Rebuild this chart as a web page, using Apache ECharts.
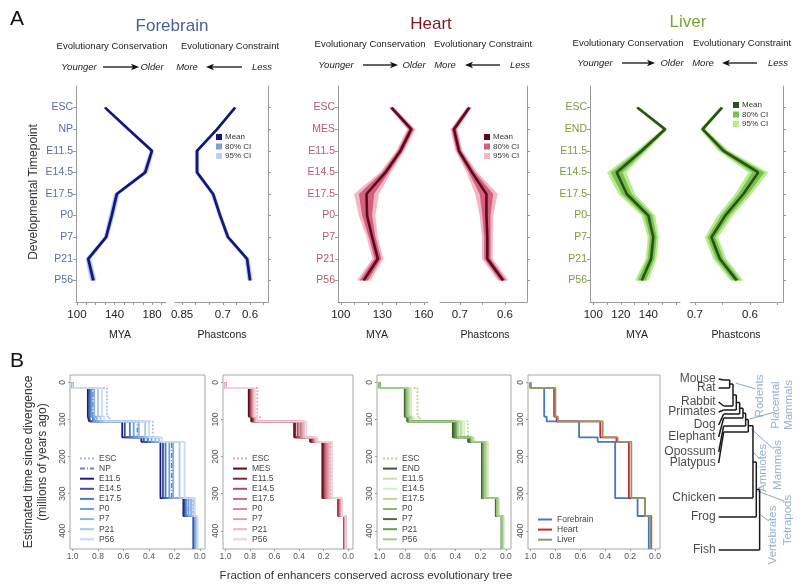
<!DOCTYPE html>
<html><head><meta charset="utf-8">
<script src="https://cdn.jsdelivr.net/npm/echarts@6/dist/echarts.min.js"></script>
<style>html,body{margin:0;padding:0;background:#fff}#c{width:800px;height:586px}</style>
</head><body><div id="c"></div>
<script>
// ---------------- DATA ----------------
const fbStages = ['ESC','NP','E11.5','E14.5','E17.5','P0','P7','P21','P56'];
const htStages = ['ESC','MES','E11.5','E14.5','E17.5','P0','P7','P21','P56'];
const lvStages = ['ESC','END','E11.5','E14.5','E17.5','P0','P7','P21','P56'];

const fbMya      = [129.9,154.7,179.7,172.6,142.4,137.0,131.0,112.0,117.4];
const fbMyaCi80  = [1.2,1.2,1.5,1.8,1.8,1.8,1.5,1.8,2.1];
const fbMyaCi95  = [2.0,2.0,2.5,3.0,3.0,3.0,2.5,3.0,3.5];
const fbPhast    = [0.655,0.721,0.795,0.795,0.736,0.710,0.681,0.611,0.600];
const fbPhCi80   = [0.004,0.004,0.005,0.005,0.005,0.005,0.005,0.005,0.006];
const fbPhCi95   = [0.006,0.006,0.008,0.008,0.008,0.008,0.008,0.009,0.010];

const htMya      = [136.6,150.9,143.1,132.3,118.6,119.0,122.7,126.8,116.6];
const htMyaCi80  = [1.2,1.8,1.8,2.4,5.5,3.6,2.4,2.4,3.0];
const htMyaCi95  = [2.0,3.0,3.0,4.0,9.0,6.0,4.0,4.0,5.0];
const htPhast    = [0.679,0.713,0.702,0.673,0.641,0.641,0.639,0.639,0.604];
const htPhCi80   = [0.004,0.005,0.005,0.007,0.015,0.009,0.007,0.007,0.007];
const htPhCi95   = [0.006,0.008,0.008,0.012,0.025,0.015,0.012,0.012,0.012];

const lvMya      = [132.0,152.1,135.2,117.0,124.3,140.0,143.6,142.0,135.2];
const lvMyaCi80  = [1.0,1.2,2.4,4.2,3.6,3.0,2.4,2.4,3.0];
const lvMyaCi95  = [1.5,2.0,4.0,7.0,6.0,5.0,4.0,4.0,5.0];
const lvPhast    = [0.651,0.686,0.648,0.585,0.612,0.645,0.670,0.655,0.624];
const lvPhCi80   = [0.0025,0.003,0.006,0.011,0.009,0.008,0.007,0.007,0.007];
const lvPhCi95   = [0.004,0.005,0.010,0.018,0.015,0.014,0.012,0.012,0.012];

// Panel B: divergence times (MYA) and fraction of enhancers conserved after each
const divTimes = [15, 92, 105, 148, 160, 312, 360];
const endTime = 449;
const fbFrac = {
  'ESC':  [0.73,0.71,0.37,0.33,0.21,0.06,0.03],
  'NP':   [0.84,0.82,0.49,0.41,0.22,0.09,0.04],
  'E11.5':[0.88,0.87,0.61,0.46,0.31,0.13,0.05],
  'E14.5':[0.87,0.86,0.59,0.44,0.29,0.12,0.05],
  'E17.5':[0.86,0.84,0.55,0.41,0.27,0.11,0.04],
  'P0':   [0.85,0.83,0.52,0.38,0.24,0.09,0.04],
  'P7':   [0.83,0.81,0.48,0.35,0.21,0.07,0.03],
  'P21':  [0.80,0.78,0.43,0.32,0.16,0.05,0.02],
  'P56':  [0.77,0.75,0.40,0.30,0.12,0.04,0.02]
};
const htFrac = {
  'ESC':  [0.74,0.72,0.36,0.28,0.14,0.05,0.02],
  'MES':  [0.81,0.79,0.44,0.31,0.21,0.08,0.03],
  'E11.5':[0.80,0.78,0.43,0.30,0.20,0.08,0.03],
  'E14.5':[0.79,0.77,0.41,0.29,0.19,0.07,0.03],
  'E17.5':[0.78,0.76,0.39,0.28,0.18,0.07,0.02],
  'P0':   [0.78,0.76,0.38,0.27,0.17,0.06,0.02],
  'P7':   [0.77,0.75,0.37,0.27,0.16,0.06,0.02],
  'P21':  [0.77,0.75,0.36,0.26,0.15,0.05,0.02],
  'P56':  [0.76,0.74,0.34,0.25,0.13,0.05,0.02]
};
const lvFrac = {
  'ESC':  [0.70,0.68,0.30,0.26,0.15,0.06,0.02],
  'END':  [0.80,0.78,0.42,0.30,0.19,0.08,0.035],
  'E11.5':[0.76,0.74,0.35,0.26,0.15,0.06,0.02],
  'E14.5':[0.75,0.73,0.33,0.25,0.14,0.06,0.02],
  'E17.5':[0.77,0.75,0.36,0.27,0.16,0.06,0.03],
  'P0':   [0.79,0.77,0.39,0.28,0.17,0.07,0.03],
  'P7':   [0.80,0.78,0.41,0.29,0.19,0.08,0.03],
  'P21':  [0.79,0.77,0.40,0.28,0.18,0.07,0.03],
  'P56':  [0.78,0.76,0.38,0.27,0.17,0.07,0.03]
};
const summaryNames = ['Forebrain','Heart','Liver'];
const summaryFrac = {
  'Forebrain':[0.89,0.87,0.61,0.46,0.32,0.14,0.05],
  'Heart':    [0.81,0.79,0.44,0.31,0.21,0.08,0.03],
  'Liver':    [0.80,0.78,0.42,0.30,0.19,0.08,0.035]
};

// Tree (cladogram)
const species = ['Mouse','Rat','Rabbit','Primates','Dog','Elephant','Opossum','Platypus','Chicken','Frog','Fish'];
const speciesLabelRow = [0.4,1.3,2.7,3.7,5.0,6.2,7.7,8.8,12.3,14.2,17.5];
const speciesTipRow   = [0.5,1.3,3.1,3.5,3.9,4.3,5.1,5.7,12.3,14.2,17.5];
const nodeDepth = [3,4,5,6,7,7.8,8.6,10,11,12];
const clades = ['Rodents','Placental\nMammals','Amniotes','Mammals','Tetrapods','Vertebrates'];

// ---------------- STYLE / LAYOUT ----------------
const FONT = 'Liberation Sans, Arial, Helvetica, sans-serif';
const AX = '#9a9a9a';
const tissueStyle = {
  fb: {title:'#4b6096', lab:'#5d6d9e', mean:'#16167a', c80:'#7f9de0', c95:'#bcd0f4'},
  ht: {title:'#7d1a26', lab:'#b25c6c', mean:'#5c0b1c', c80:'#d4607e', c95:'#f2b8c6'},
  lv: {title:'#7aa33a', lab:'#7d9c3c', mean:'#2b5218', c80:'#78c050', c95:'#b6ec8e'}
};
const gridsA = [
  {left:76, top:86, width:90, height:216},
  {left:175, top:86, width:93, height:216},
  {left:338, top:86, width:90, height:216},
  {left:440, top:86, width:87, height:216},
  {left:590, top:86, width:90, height:216},
  {left:690, top:86, width:93, height:216}
];
const gridsB = [
  {left:70, top:375, width:135, height:174},
  {left:223, top:375, width:130, height:174},
  {left:377, top:375, width:134, height:174},
  {left:528, top:375, width:132, height:174}
];
const gridTree = {left:713, top:375, width:86.6, height:180};

const xA = [
  {min:99, max:194.7, ticks:[100,110,120,130,140,150,160,170,180,190], labels:[100,140,180], inv:false},
  {min:0.534, max:0.876, ticks:[0.55,0.6,0.65,0.7,0.75,0.8,0.85], labels:[0.85,0.7,0.6], inv:true},
  {min:98, max:163, ticks:[100,110,120,130,140,150,160], labels:[100,130,160], inv:false},
  {min:0.551, max:0.744, ticks:[0.6,0.65,0.7], labels:[0.7,0.6], inv:true},
  {min:97.6, max:163, ticks:[100,110,120,130,140,150,160], labels:[100,120,140], inv:false},
  {min:0.54, max:0.709, ticks:[0.55,0.6,0.65,0.7], labels:[0.7,0.6], inv:true}
];
const stageIdx = [0,1,2,3,4,5,6,7,8];

const grid = [], xAxis = [], yAxis = [], series = [], legend = [];

// ---- Panel A axes
const stageSets = [fbStages, fbStages, htStages, htStages, lvStages, lvStages];
const labCols = [tissueStyle.fb.lab, tissueStyle.fb.lab, tissueStyle.ht.lab, tissueStyle.ht.lab, tissueStyle.lv.lab, tissueStyle.lv.lab];
gridsA.forEach((g, i) => {
  grid.push(g);
  const a = xA[i];
  xAxis.push({type:'value', gridIndex:i, min:a.min, max:a.max, inverse:a.inv, splitLine:{show:false},
    axisLine:{show:true, onZero:false, lineStyle:{color:AX}},
    axisTick:{show:true, customValues:a.ticks, length:3, lineStyle:{color:AX}},
    axisLabel:{customValues:a.labels, color:'#222', fontSize:11.5, fontFamily:FONT, margin:7,
      formatter: v => String(v)}});
  const isMya = i % 2 === 0;
  yAxis.push({type:'value', gridIndex:i, min:-1, max:9, inverse:true, position: isMya ? 'left' : 'right',
    splitLine:{show:false}, axisLine:{show:true, onZero:false, lineStyle:{color:AX}},
    axisTick:{show:true, customValues:stageIdx, length:3, lineStyle:{color:AX}},
    axisLabel:{show:isMya, customValues:stageIdx, color:labCols[i], fontSize:10.5, fontFamily:FONT, margin:3,
      formatter: v => stageSets[i][v]}});
});

function band(name, gi, mean, hw, color) {
  return {type:'custom', name, coordinateSystem:'cartesian2d', xAxisIndex:gi, yAxisIndex:gi,
    itemStyle:{color}, silent:true, z:1, clip:false,
    data: mean.map((m, k) => [m, k]),
    renderItem(params, api) {
      if (params.dataIndex !== 0) return null;
      const pts = [];
      for (let k = 0; k < mean.length; k++) pts.push(api.coord([mean[k] - hw[k], k]));
      for (let k = mean.length - 1; k >= 0; k--) pts.push(api.coord([mean[k] + hw[k], k]));
      return {type:'polygon', shape:{points:pts}, style:{fill:color}};
    }};
}
function meanLine(name, gi, mean, color) {
  return {type:'line', name, xAxisIndex:gi, yAxisIndex:gi, data: mean.map((m, k) => [m, k]),
    symbol:'none', lineStyle:{color, width:2.6}, itemStyle:{color}, z:3, silent:true};
}
const aSets = [
  ['fb', fbMya, fbMyaCi80, fbMyaCi95, fbPhast, fbPhCi80, fbPhCi95, 0],
  ['ht', htMya, htMyaCi80, htMyaCi95, htPhast, htPhCi80, htPhCi95, 2],
  ['lv', lvMya, lvMyaCi80, lvMyaCi95, lvPhast, lvPhCi80, lvPhCi95, 4]
];
aSets.forEach(([k, mya, m80, m95, ph, p80, p95, gi]) => {
  const st = tissueStyle[k];
  series.push(band(k + '|95% CI', gi, mya, m95, st.c95));
  series.push(band(k + '|80% CI', gi, mya, m80, st.c80));
  series.push(meanLine(k + '|Mean', gi, mya, st.mean));
  series.push(band(k + '|95% CI', gi + 1, ph, p95, st.c95));
  series.push(band(k + '|80% CI', gi + 1, ph, p80, st.c80));
  series.push(meanLine(k + '|Mean', gi + 1, ph, st.mean));
});
const legPosA = {fb:{left:216, top:133}, ht:{left:484, top:133}, lv:{left:733, top:101}};
['fb','ht','lv'].forEach(k => {
  legend.push({orient:'vertical', left:legPosA[k].left, top:legPosA[k].top, icon:'rect', itemWidth:6, itemHeight:6,
    itemGap:1.5, padding:0, selectedMode:false,
    data:[{name:k + '|Mean'}, {name:k + '|80% CI'}, {name:k + '|95% CI'}],
    formatter: n => n.split('|')[1],
    textStyle:{fontSize:8, color:'#333', fontFamily:FONT, padding:[0,0,0,-2]}});
});

// ---- Panel B
function steps(fr) {
  const pts = [[1, 0]];
  let prev = 1;
  divTimes.forEach((t, i) => { pts.push([prev, t]); pts.push([fr[i], t]); prev = fr[i]; });
  pts.push([prev, endTime]);
  return pts;
}
gridsB.forEach((g, j) => {
  const gi = 6 + j;
  grid.push(Object.assign({show:true, borderColor:'#a8a8a8', borderWidth:1}, g));
  xAxis.push({type:'value', gridIndex:gi, min:-0.04, max:1.02, inverse:true, splitLine:{show:false},
    axisLine:{show:false, onZero:false}, axisTick:{show:true, customValues:[0,0.2,0.4,0.6,0.8,1], length:2, lineStyle:{color:AX}},
    axisLabel:{customValues:[0,0.2,0.4,0.6,0.8,1], formatter:v => v.toFixed(1), fontSize:8.5, color:'#555', fontFamily:FONT, margin:3}});
  yAxis.push({type:'value', gridIndex:gi, min:-20, max:endTime, inverse:true, splitLine:{show:false},
    axisLine:{show:false, onZero:false}, axisTick:{show:true, customValues:[0,100,200,300,400], length:2, lineStyle:{color:AX}},
    axisLabel:{customValues:[0,100,200,300,400], rotate:90, fontSize:8.5, color:'#555', fontFamily:FONT, margin:3}});
});
const bLineStyles = {
  fb: {'ESC':['#a9bde3','dotted'], 'NP':['#6f80bf',[5,2,1,2]], 'E11.5':['#1c1f78','solid'], 'E14.5':['#3c4f9c','solid'],
       'E17.5':['#4a7cc4','solid'], 'P0':['#6f9fdc','solid'], 'P7':['#8cb3e4','solid'], 'P21':['#aac6ec','solid'], 'P56':['#cadaf3','solid']},
  ht: {'ESC':['#e6a6b4','dotted'], 'MES':['#5a0a18','solid'], 'E11.5':['#8c2236','solid'], 'E14.5':['#b04c60','solid'],
       'E17.5':['#c26c7c','solid'], 'P0':['#d28c9a','solid'], 'P7':['#dea2ae','solid'], 'P21':['#e8b8c2','solid'], 'P56':['#f1d0d6','solid']},
  lv: {'ESC':['#b4d896','dotted'], 'END':['#3a5a2a','solid'], 'E11.5':['#c8e0b2','solid'], 'E14.5':['#d8ecca','solid'],
       'E17.5':['#b8d8a0','solid'], 'P0':['#8ab870','solid'], 'P7':['#4b6c3a','solid'], 'P21':['#6a9a50','solid'], 'P56':['#a2cc8a','solid']}
};
const bSets = [['fb', fbStages, fbFrac, 6], ['ht', htStages, htFrac, 7], ['lv', lvStages, lvFrac, 8]];
const legPosB = [{left:79, top:454}, {left:232, top:454}, {left:382, top:454}];
bSets.forEach(([k, stages, frac, gi], j) => {
  const names = [];
  stages.forEach(s => {
    const [col, type] = bLineStyles[k][s];
    const nm = 'b' + k + '|' + s;
    names.push(nm);
    series.push({type:'line', name:nm, xAxisIndex:gi, yAxisIndex:gi, data:steps(frac[s]), symbol:'none',
      lineStyle:{color:col, width:1.8, type}, itemStyle:{color:col}, silent:true});
  });
  legend.push({orient:'vertical', left:legPosB[j].left, top:legPosB[j].top, itemWidth:14, itemHeight:8, itemGap:1.1,
    padding:0, selectedMode:false, data:names, formatter:n => n.split('|')[1], itemStyle:{opacity:0},
    textStyle:{fontSize:8.5, color:'#444', fontFamily:FONT, lineHeight:9}});
});
const summaryCols = {'Forebrain':'#4a74c4', 'Heart':'#c42a2a', 'Liver':'#8c9a70'};
summaryNames.forEach(n => {
  series.push({type:'line', name:'s|' + n, xAxisIndex:9, yAxisIndex:9, data:steps(summaryFrac[n]), symbol:'none',
    lineStyle:{color:summaryCols[n], width:1.8}, itemStyle:{color:summaryCols[n]}, silent:true});
});
legend.push({orient:'vertical', left:537, top:515, itemWidth:14, itemHeight:8, itemGap:1.1, padding:0, selectedMode:false,
  data:summaryNames.map(n => 's|' + n), formatter:n => n.split('|')[1], itemStyle:{opacity:0},
  textStyle:{fontSize:8.5, color:'#444', fontFamily:FONT, lineHeight:9}});

// ---- Tree
grid.push(gridTree);
xAxis.push({type:'value', gridIndex:10, min:-2, max:24, show:false});
yAxis.push({type:'value', gridIndex:10, min:0, max:18, inverse:true, show:false});
const treeSegs = [];
const parentOf = s => (s <= 1 ? 0 : s - 1);
species.forEach((sp, s) => {
  const leader = speciesLabelRow[s] !== speciesTipRow[s];
  let x0 = -0.3;
  if (leader) { treeSegs.push({coords:[[-0.3, speciesLabelRow[s]], [1.2, speciesTipRow[s]]]}); x0 = 1.2; }
  treeSegs.push({coords:[[x0, speciesTipRow[s]], [nodeDepth[parentOf(s)], speciesTipRow[s]]]});
});
let prevY = null;
nodeDepth.forEach((d, k) => {
  let yA, yB;
  if (k === 0) { yA = speciesTipRow[0]; yB = speciesTipRow[1]; }
  else {
    treeSegs.push({coords:[[nodeDepth[k - 1], prevY], [d, prevY]]});
    yA = prevY; yB = speciesTipRow[k + 1];
  }
  treeSegs.push({coords:[[d, yA], [d, yB]]});
  prevY = (yA + yB) / 2;
});
series.push({type:'lines', coordinateSystem:'cartesian2d', xAxisIndex:10, yAxisIndex:10, polyline:true,
  data:treeSegs, lineStyle:{color:'#1a1a1a', width:1.5, opacity:1}, silent:true, z:3});
series.push({type:'scatter', xAxisIndex:10, yAxisIndex:10, symbolSize:0, silent:true,
  data:species.map((s, i) => ({value:[-0.9, speciesLabelRow[i]], name:s})),
  label:{show:true, position:'left', distance:1, formatter:p => p.name, fontSize:12, color:'#1a1a1a', fontFamily:FONT}});
// clade annotation placement (tree coords)
const cladePos = [[12, 2.1], [18.9, 3.0], [12.9, 9.3], [17.4, 9.0], [20.4, 14.5], [15.9, 16.0]];
const cladeLeaders = [
  [[4.8, 0.8], [10.8, 1.4]], [[9, 4.4], [16.6, 3.7]], [[10.3, 7.8], [12, 8.4]],
  [[9.5, 5.4], [16.2, 7.4]], [[11.3, 11.6], [19.3, 12.6]], [[12.3, 14.0], [14.8, 14.6]]
];
series.push({type:'lines', coordinateSystem:'cartesian2d', xAxisIndex:10, yAxisIndex:10, polyline:true,
  data:cladeLeaders.map(c => ({coords:c})), lineStyle:{color:'#8ea6c8', width:1, opacity:1}, silent:true, z:2});
series.push({type:'scatter', xAxisIndex:10, yAxisIndex:10, symbolSize:0, silent:true,
  data:clades.map((c, i) => ({value:cladePos[i], name:c})),
  label:{show:true, position:'inside', rotate:90, formatter:p => p.name, fontSize:11.5, lineHeight:13,
    color:'#7f9cc4', fontFamily:FONT, align:'center', verticalAlign:'middle'}});

// ---- Graphic text & arrows
const G = [];
function txt(text, x, y, o = {}) {
  G.push({type:'text', x, y, rotation:o.rot || 0, silent:true,
    style:{text, fill:o.color || '#222', fontSize:o.size || 10, fontFamily:FONT, fontStyle:o.italic ? 'italic' : 'normal',
      fontWeight:o.weight || 'normal', textAlign:o.align || 'center', textVerticalAlign:'middle'}});
}
function arrow(x1, x2, y, dir) {
  const head = dir > 0 ? x2 : x1, tail = dir > 0 ? x1 : x2;
  G.push({type:'line', silent:true, shape:{x1:tail, y1:y, x2:head - dir * 5, y2:y}, style:{stroke:'#111', lineWidth:1.3}});
  G.push({type:'polygon', silent:true, shape:{points:[[head, y], [head - dir * 8, y - 3.2], [head - dir * 6, y], [head - dir * 8, y + 3.2]]},
    style:{fill:'#111'}});
}
txt('A', 10, 19, {size:21, align:'left', color:'#111'});
txt('B', 10, 361, {size:21, align:'left', color:'#111'});
txt('Forebrain', 172, 26, {size:17, color:tissueStyle.fb.title});
txt('Heart', 431, 24, {size:17, color:tissueStyle.ht.title});
txt('Liver', 688, 22, {size:17, color:tissueStyle.lv.title});
const hdr = [
  {cons:112, cnst:230, y1:46, y2:67, yo:79, ar1:[103,139], old:152, more:187, ar2:[206,242], less:262},
  {cons:370, cnst:483, y1:44, y2:65, yo:336, ar1:[363,398], old:414, more:445, ar2:[465,500], less:520},
  {cons:628, cnst:742, y1:43, y2:63, yo:595, ar1:[622,655], old:672, more:703, ar2:[722,757], less:778}
];
hdr.forEach(h => {
  txt('Evolutionary Conservation', h.cons, h.y1, {size:9.5});
  txt('Evolutionary Constraint', h.cnst, h.y1, {size:9.5});
  txt('Younger', h.yo, h.y2, {size:9.5, italic:true});
  arrow(h.ar1[0], h.ar1[1], h.y2, 1);
  txt('Older', h.old, h.y2, {size:9.5, italic:true});
  txt('More', h.more, h.y2, {size:9.5, italic:true});
  arrow(h.ar2[0], h.ar2[1], h.y2, -1);
  txt('Less', h.less, h.y2, {size:9.5, italic:true});
});
[[120, 222], [377, 485], [637, 736]].forEach(([m, p]) => {
  txt('MYA', m, 335, {size:10.5});
  txt('Phastcons', p, 335, {size:10.5});
});
txt('Developmental Timepoint', 34, 192, {size:12, rot:Math.PI / 2, color:'#333'});
txt('Estimated time since divergence', 29, 462, {size:12, rot:Math.PI / 2, color:'#333'});
txt('(millions of years ago)', 43, 462, {size:12, rot:Math.PI / 2, color:'#333'});
txt('Fraction of enhancers conserved across evolutionary tree', 366, 576, {size:11.5, color:'#333'});

const chart = echarts.init(document.getElementById('c'), null, {renderer:'canvas', width:800, height:586});
chart.setOption({animation:false, backgroundColor:'#fff', grid, xAxis, yAxis, series, legend, graphic:G,
  tooltip:{show:false}});
</script></body></html>
